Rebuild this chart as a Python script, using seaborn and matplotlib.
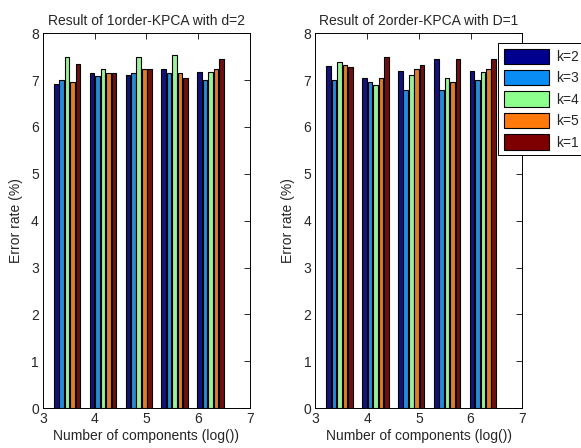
import numpy as np
import pandas as pd
import seaborn as sns
import matplotlib.pyplot as plt
from matplotlib.patches import Patch

# --- data ---
x_pos = [3.466, 4.159, 4.852, 5.545, 6.238]   # log(32) ... log(512)
k_labels = ["k=2", "k=3", "k=4", "k=5", "k=1"]

# left: 1order-KPCA, d=2   (rows = k, cols = x group)
err_1order = [
    [6.91, 7.15, 7.10, 7.23, 7.18],
    [7.00, 7.09, 7.15, 7.14, 7.00],
    [7.49, 7.23, 7.49, 7.54, 7.18],
    [6.95, 7.14, 7.23, 7.14, 7.23],
    [7.34, 7.14, 7.23, 7.05, 7.44],
]
# right: 2order-KPCA, D=1
err_2order = [
    [7.29, 7.05, 7.19, 7.45, 7.19],
    [7.00, 6.96, 6.79, 6.79, 7.00],
    [7.39, 6.90, 7.10, 7.05, 7.18],
    [7.33, 7.05, 7.23, 6.96, 7.23],
    [7.27, 7.49, 7.33, 7.45, 7.45],
]

titles = ["Result of 1order-KPCA with d=2", "Result of 2order-KPCA with D=1"]
colors = ["#00008F", "#0A8CF5", "#8CFF8C", "#FF7A0A", "#7F0000"]  # jet-ish


def to_frame(err):
    rows = []
    for ki, lab in enumerate(k_labels):
        for xi, xv in enumerate(x_pos):
            rows.append({"x": xv, "err": err[ki][xi], "k": lab})
    return pd.DataFrame(rows)


sns.set_style("white")
plt.rcParams["font.family"] = ["Liberation Sans", "DejaVu Sans"]
plt.rcParams["font.size"] = 10

fig = plt.figure(figsize=(5.81, 4.48), dpi=100)
ax1 = fig.add_axes([0.074, 0.089, 0.356, 0.837])
ax2 = fig.add_axes([0.543, 0.089, 0.356, 0.837])

for ax, err, title in zip([ax1, ax2], [err_1order, err_2order], titles):
    df = to_frame(err)
    sns.barplot(data=df, x="x", y="err", hue="k", hue_order=k_labels,
                palette=colors, native_scale=True, width=0.76, gap=0.15,
                edgecolor="black", linewidth=0.8, errorbar=None, ax=ax,
                legend=False)
    ax.set_xlim(3, 7)
    ax.set_ylim(0, 8)
    ax.set_xticks([3, 4, 5, 6, 7])
    ax.set_yticks(range(9))
    ax.set_title(title, fontsize=10, pad=6)
    ax.set_xlabel("Number of components (log())", fontsize=10, labelpad=2)
    ax.set_ylabel("Error rate (%)", fontsize=10, labelpad=6)
    ax.tick_params(direction="in", top=True, right=True, length=4,
                   width=0.7, labelsize=10, pad=3)
    for sp in ax.spines.values():
        sp.set_visible(True)
        sp.set_color("black")
        sp.set_linewidth(0.7)

handles = [Patch(facecolor=c, edgecolor="black", linewidth=0.8) for c in colors]
leg = ax2.legend(handles, k_labels, loc="upper left",
                 bbox_to_anchor=(498 / 581, 1 - 43 / 448),
                 bbox_transform=fig.transFigure, borderaxespad=0,
                 fontsize=10, handlelength=3.3, handleheight=1.3,
                 labelspacing=0.45, handletextpad=0.5, borderpad=0.4,
                 fancybox=False, framealpha=1, edgecolor="black")
leg.get_frame().set_linewidth(0.7)

plt.savefig("out.png", dpi=100)
